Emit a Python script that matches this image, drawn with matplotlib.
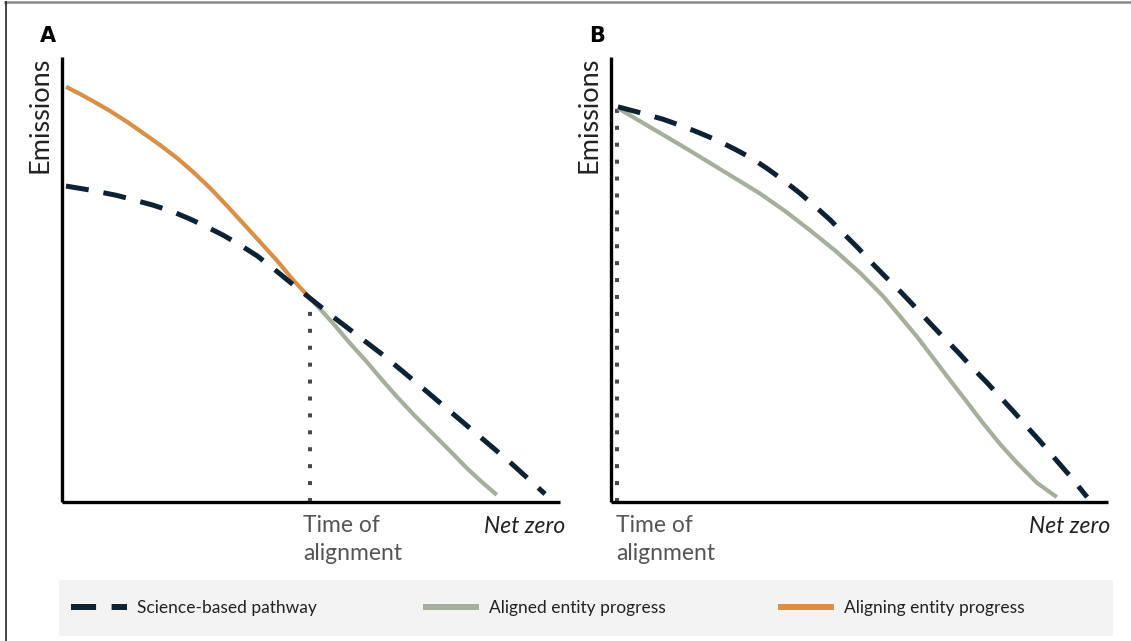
import matplotlib
matplotlib.use("Agg")
import matplotlib.pyplot as plt
from matplotlib.lines import Line2D
from matplotlib.patches import Rectangle

# ---------------- data (arbitrary units: time 0-100, emissions 0-100) ----------------
# Panel A
a_orange_t = [0.8, 3.6, 6.2, 9.6, 13.1, 16.3, 19.7, 23.1, 26.3, 29.7, 33.1, 36.3, 39.8, 43.2, 46.4, 49.8]
a_orange_e = [93.3, 91.7, 90.1, 87.9, 85.4, 82.9, 80.2, 77.3, 74.2, 70.6, 66.6, 62.7, 58.4, 54.2, 49.9, 45.8]

a_path_t = [0.8, 5.6, 11.0, 14.7, 18.3, 22.1, 25.7, 29.1, 32.3, 35.7, 39.2, 42.4, 45.8, 49.8,
            54.8, 58.2, 64.5, 71.9, 81.9, 89.9, 97.0]
a_path_e = [71.0, 70.1, 68.9, 67.8, 66.7, 65.3, 63.6, 61.8, 60.0, 57.8, 55.3, 52.5, 49.4, 45.8,
            41.3, 38.4, 33.0, 26.1, 16.6, 9.0, 1.8]

a_gray_t = [49.8, 52.2, 54.4, 57.8, 61.2, 64.3, 67.3, 70.9, 74.5, 77.9, 81.3, 84.3, 87.3]
a_gray_e = [45.8, 42.9, 40.2, 35.7, 31.5, 27.4, 23.6, 19.3, 15.3, 11.5, 7.6, 4.5, 1.6]

a_align_t = 49.8
a_align_e = 45.8

# Panel B
b_path_t = [1.4, 5.8, 10.5, 14.3, 17.9, 21.5, 24.9, 28.4, 31.6, 34.8, 38.0, 41.0, 44.1, 46.9, 49.7,
            52.5, 55.5, 58.4, 61.2, 64.0, 66.8, 69.8, 72.6, 75.5, 78.3, 81.1, 83.7, 86.3, 88.9, 92.4, 95.8]
b_path_e = [88.8, 87.5, 86.0, 84.5, 82.9, 81.2, 79.3, 77.2, 74.8, 72.2, 69.4, 66.5, 63.4, 60.2, 57.1,
            53.7, 50.3, 47.1, 43.8, 40.4, 37.1, 33.7, 30.3, 27.0, 23.6, 20.2, 16.9, 13.7, 10.3, 5.8, 1.1]

b_gray_t = [1.4, 5.8, 9.9, 14.9, 19.9, 24.9, 30.0, 35.0, 40.0, 45.1, 50.1, 54.7, 58.1, 61.6, 64.8,
            68.2, 71.6, 74.8, 78.3, 81.7, 85.7, 89.7]
b_gray_e = [88.5, 85.6, 82.9, 79.6, 76.2, 72.8, 69.3, 65.4, 61.1, 56.5, 51.5, 46.3, 41.8, 37.1, 32.4,
            27.4, 22.5, 17.8, 13.0, 8.8, 4.3, 1.1]

b_align_t = 1.2
b_align_e = 88.5

panel_labels = ["A", "B"]
y_label = "Emissions"
x_label_left = ["Time of", "alignment"]
x_label_right = "Net zero"
legend_labels = ["Science-based pathway", "Aligned entity progress", "Aligning entity progress"]

# ---------------- styles ----------------
C_DASH = "#0d2333"
C_GRAY = "#a4af9c"
C_ORANGE = "#d98f45"
C_DOT = "#4a4a4a"

W, H = 1131, 641
fig = plt.figure(figsize=(W / 100, H / 100), dpi=100)
fig.patch.set_facecolor("white")

FONT = ["Lato", "DejaVu Sans"]

dash_kw = dict(color=C_DASH, lw=3.6, linestyle=(0, (4.6, 3.0)), dash_capstyle="butt",
               dash_joinstyle="round")
solid_kw = dict(lw=3.0, solid_capstyle="butt", solid_joinstyle="round")
dot_kw = dict(color=C_DOT, lw=2.9, linestyle=(0, (1, 3.2)), dash_capstyle="butt")


def make_axes(left_px, right_px):
    ax = fig.add_axes([left_px / W, (H - 502) / H, (right_px - left_px) / W, 445 / H])
    ax.set_xlim(0, 100)
    ax.set_ylim(0, 100)
    for s in ["top", "right"]:
        ax.spines[s].set_visible(False)
    for s in ["left", "bottom"]:
        ax.spines[s].set_linewidth(2.4)
        ax.spines[s].set_color("black")
        ax.spines[s].set_capstyle("butt")
    ax.set_xticks([])
    ax.set_yticks([])
    ax.patch.set_alpha(0)
    return ax


axA = make_axes(62, 560)
axB = make_axes(611, 1108)

# Panel A
axA.plot([a_align_t, a_align_t], [0, a_align_e], **dot_kw, zorder=1)
axA.plot(a_orange_t, a_orange_e, color=C_ORANGE, **solid_kw, zorder=2)
axA.plot(a_gray_t, a_gray_e, color=C_GRAY, **solid_kw, zorder=2)
axA.plot(a_path_t, a_path_e, **dash_kw, zorder=3, clip_on=False)

# Panel B
axB.plot([b_align_t, b_align_t], [0, b_align_e], **dot_kw, zorder=1)
axB.plot(b_gray_t, b_gray_e, color=C_GRAY, **solid_kw, zorder=2)
axB.plot(b_path_t, b_path_e, **dash_kw, zorder=3, clip_on=False)

# Texts
for ax, lab, tx, nz_right in [(axA, panel_labels[0], 48.4, 101.0),
                              (axB, panel_labels[1], 1.0, 100.4)]:
    ax.text(-2.9, 103.4, lab, fontsize=15, fontweight="bold",
            ha="center", va="baseline", family=["DejaVu Sans"], color="black")
    ax.text(-4.4, 100, y_label, rotation=90, ha="center", va="top", fontsize=19.5,
            family=FONT, color="#222222")
    ax.text(tx, -6.7, x_label_left[0], ha="left", va="baseline", fontsize=16.5,
            family=FONT, color="#555555")
    ax.text(tx, -13.0, x_label_left[1], ha="left", va="baseline", fontsize=16.5,
            family=FONT, color="#555555")
    ax.text(nz_right, -6.9, x_label_right, ha="right", va="baseline", fontsize=16.5,
            family=FONT, style="italic", color="#222222")

# Legend background
fig.add_artist(Rectangle((59 / W, (H - 636) / H), 1054 / W, 56 / H, transform=fig.transFigure,
                         facecolor="#f3f3f3", edgecolor="none", zorder=0))

handles = [
    Line2D([0], [0], color=C_DASH, lw=4.3, linestyle=(0, (4.2, 2.6)), dash_capstyle="butt"),
    Line2D([0], [0], color=C_GRAY, lw=4.3, solid_capstyle="butt"),
    Line2D([0], [0], color=C_ORANGE, lw=4.3, solid_capstyle="butt"),
]
leg_x = [71, 423, 778]
for h, lab, x in zip(handles, legend_labels, leg_x):
    lg = fig.legend([h], [lab], loc="center left", bbox_to_anchor=(x / W, (H - 608) / H),
                    frameon=False, borderpad=0, borderaxespad=0, handlelength=3.2,
                    handletextpad=0.6, prop={"family": FONT, "size": 12.5})
    for t in lg.get_texts():
        t.set_color("#222222")

# Figure border (top and left)
fig.add_artist(Line2D([5 / W, 1.0], [1 - 2 / H, 1 - 2 / H], color="#888888", lw=1.8,
                      transform=fig.transFigure))
fig.add_artist(Line2D([6 / W, 6 / W], [0, 1 - 2 / H], color="#222222", lw=1.2,
                      transform=fig.transFigure))

fig.savefig("out.png", dpi=100, facecolor="white")
